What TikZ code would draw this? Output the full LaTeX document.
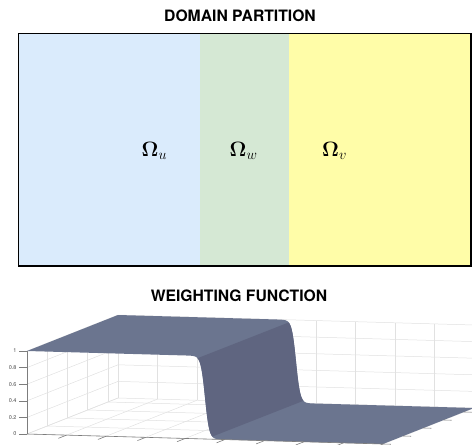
\documentclass[tikz,border=0pt]{standalone}
\usepackage[no-math]{fontspec}
\setsansfont{TeX Gyre Heros}
\definecolor{bluec}{RGB}{218,235,252}
\definecolor{greenc}{RGB}{213,232,212}
\definecolor{yellowc}{RGB}{255,253,168}
\definecolor{platc}{RGB}{107,117,143}
\definecolor{dropc}{RGB}{95,101,128}
\definecolor{gridc}{RGB}{225,225,225}
\definecolor{axisc}{RGB}{125,125,125}
\definecolor{labc}{RGB}{70,70,70}
\begin{document}
\begin{tikzpicture}[x=1pt,y=-1pt,
  declare function={sg(\a)=1/(1+exp((\a-0.5)/0.006));},
  gridline/.style={draw=gridc, line width=0.5pt},
  axisline/.style={draw=axisc, line width=0.6pt},
  ticklab/.style={font=\sffamily\fontsize{5.5}{6}\selectfont, text=labc, anchor=east, inner sep=0pt},
  titletext/.style={font=\sffamily\bfseries\fontsize{15.7}{18}\selectfont, anchor=base, inner sep=0pt},
  omlab/.style={font=\fontsize{19.5}{23}\selectfont, anchor=base west, inner sep=0pt}]
\useasboundingbox (0,0) rectangle (472,445);
\clip (0,0) rectangle (472,445);

% ---------- domain partition ----------
\node[titletext] (t1) at (240,21.7) {DOMAIN PARTITION};
\fill[bluec] (18.5,33.5) rectangle (200.5,266);
\fill[greenc] (200,33.5) rectangle (289.5,266);
\fill[yellowc] (289,33.5) rectangle (471,266);
\draw[black, line width=1.5pt] (18.5,33.5) rectangle (471,266);
\node[omlab] (ou) at (141.5,156.5) {$\mathbf{\Omega}_u$};
\node[omlab] (ow) at (229.5,156) {$\mathbf{\Omega}_w$};
\node[omlab] (ov) at (322,156.5) {$\mathbf{\Omega}_v$};

% ---------- weighting function ----------
\node[titletext] (t2) at (239,301) {WEIGHTING FUNCTION};

\begin{scope}[x={(356pt,-10pt)}, y={(91pt,36pt)}, z={(0pt,83pt)}, shift={(27pt,-434pt)}]
  % grid: left wall
  \foreach \k in {1,...,4} \draw[gridline] (0,{\k*2/9},0) -- (0,{\k*2/9},1);
  \foreach \zz in {0,0.2,0.4,0.6,0.8,1} \draw[gridline] (0,0,\zz) -- (0,1,\zz);
  % grid: back wall
  \foreach \k in {0,...,9} \draw[gridline] ({\k/9},1,0) -- ({\k/9},1,1);
  \foreach \zz in {0,0.2,0.4,0.6,0.8,1} \draw[gridline] (0,1,\zz) -- (1,1,\zz);
  % grid: floor
  \foreach \k in {0,...,9} \draw[gridline] ({\k/9},0,0) -- ({\k/9},1,0);
  \foreach \k in {0,...,4} \draw[gridline] (0,{\k*2/9},0) -- (1,{\k*2/9},0);

  % surface
  \fill[platc] (0,0,1) -- plot[domain=0.45:0.55, samples=51] (\x,0,{sg(\x)})
     -- (1,0,0) -- (1,1,0)
     -- plot[domain=0.55:0.45, samples=51] (\x,1,{sg(\x)}) -- (0,1,1) -- cycle;
  \fill[dropc] plot[domain=0.479:0.521, samples=41] (\x,0,{sg(\x)})
     -- plot[domain=0.521:0.479, samples=41] (\x,1,{sg(\x)}) -- cycle;

  % axes
  \draw[axisline] (0,0,0) -- (0,0,1);
  \draw[axisline] (0,0,0) -- (1,0,0);
  \foreach \zz in {0,0.2,0.4,0.6,0.8,1}
    \draw[axisline] (0,0,\zz) -- ++(-8pt,0pt);
  \foreach \k in {1,...,9}
    \draw[axisline] ({\k/9},0,0) -- ++(0,-0.09,0);
  \foreach \k in {0,...,4}
    \draw[axisline] (1,{\k*2/9},0) -- ++(0.022,0,0);
  \node[ticklab] (z0) at ([xshift=-10.3pt]0,0,0) {0};
  \node[ticklab] (z2) at ([xshift=-10.3pt]0,0,0.2) {0.2};
  \node[ticklab] (z4) at ([xshift=-10.3pt]0,0,0.4) {0.4};
  \node[ticklab] (z6) at ([xshift=-10.3pt]0,0,0.6) {0.6};
  \node[ticklab] (z8) at ([xshift=-10.3pt]0,0,0.8) {0.8};
  \node[ticklab] (z10) at ([xshift=-10.3pt]0,0,1) {1};
\end{scope}
\end{tikzpicture}
\end{document}
